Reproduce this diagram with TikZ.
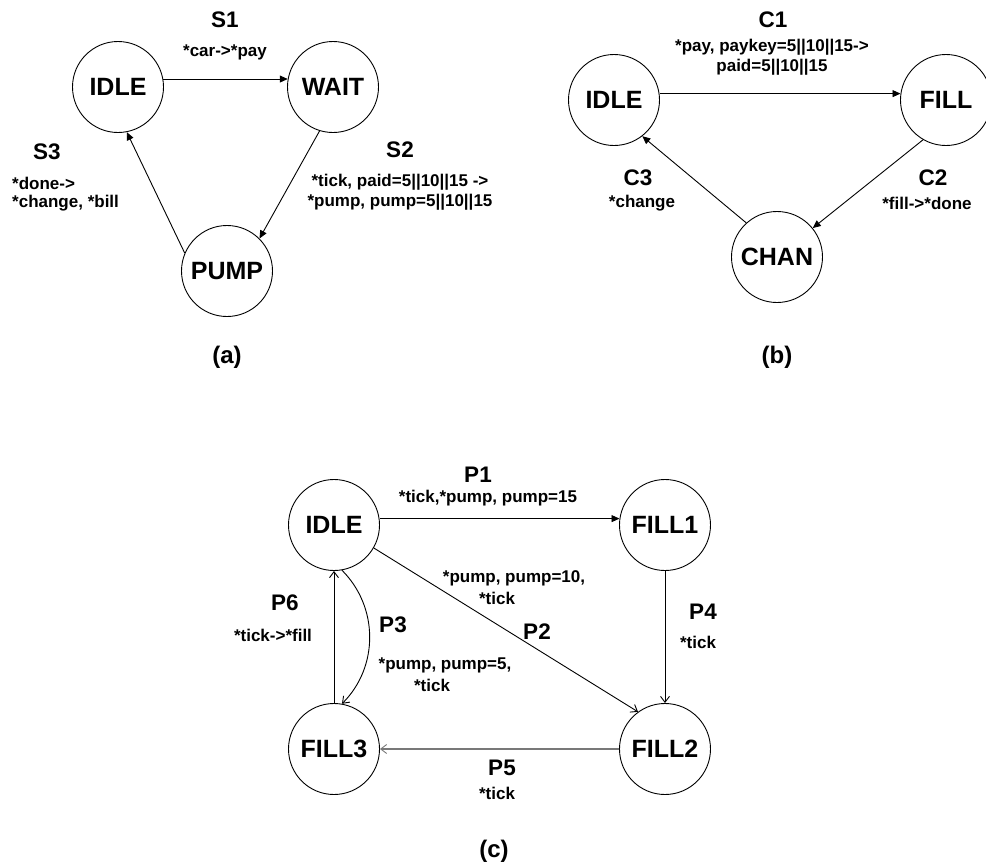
\documentclass[tikz,border=0pt]{standalone}
\usepackage{fontspec}
\setmainfont{Liberation Sans}
\usetikzlibrary{arrows.meta}
\definecolor{fadedline}{RGB}{120,120,120}
\begin{document}
\begin{tikzpicture}[x=1pt,y=-1pt,
  state/.style={draw,circle,line width=0.9pt,minimum size=91pt,inner sep=0pt,
    font=\fontsize{25}{30}\selectfont\bfseries},
  tag/.style={inner sep=0pt,font=\fontsize{22.5}{26}\selectfont\bfseries},
  cond/.style={inner sep=0pt,align=center,font=\fontsize{17}{20}\selectfont\bfseries},
  caption/.style={inner sep=0pt,font=\fontsize{24}{28}\selectfont\bfseries},
  solidarrow/.style={line width=0.9pt,-{Triangle[length=8pt,width=7pt]}},
  openarrow/.style={line width=0.9pt,-{Straight Barb[length=6pt,width=9pt,line width=0.9pt]}}]
\useasboundingbox (0,0) rectangle (986,865);

% ---------- (a) station controller ----------
\node[state] (aidle) at (118,87) {IDLE};
\node[state] (await) at (333,87) {WAIT};
\node[state] (apump) at (227,271) {PUMP};
\draw[solidarrow] (aidle.10) -- (await.170);
\draw[solidarrow] (await.253) -- (apump.45);
\draw[solidarrow] (apump.157) -- (aidle.281);
\node[tag] (s1) at (225,20) {S1};
\node[cond] (s1c) at (225,52) {*car->*pay};
\node[tag] (s2) at (400,150) {S2};
\node[cond] (s2c) at (400,192) {*tick, paid=5||10||15 ->\\*pump, pump=5||10||15};
\node[tag] (s3) at (47,152) {S3};
\node[cond,anchor=west] (s3a) at (12,183) {*done->};
\node[cond,anchor=west] (s3b) at (12,203) {*change, *bill};
\node[caption] (capa) at (227,357) {(a)};

% ---------- (b) cashier ----------
\node[state] (bidle) at (614,100) {IDLE};
\node[state] (bfill) at (946,100) {FILL};
\node[state] (bchan) at (777,257) {CHAN};
\draw[solidarrow] (bidle.8) -- (bfill.172);
\draw[solidarrow] (bfill.240) -- (bchan.39);
\draw[solidarrow] (bchan.132) -- (bidle.-52);
\node[tag] (c1) at (773,20) {C1};
\node[cond] (c1c) at (772,57) {*pay, paykey=5||10||15->\\paid=5||10||15};
\node[tag] (c2) at (933,178) {C2};
\node[cond] (c2c) at (927,203) {*fill->*done};
\node[tag] (c3) at (638,178) {C3};
\node[cond] (c3c) at (642,203) {*change};
\node[caption] (capb) at (777,357) {(b)};

% ---------- (c) pump ----------
\node[state] (cidle) at (334,525) {IDLE};
\node[state] (cfilla) at (665,525) {FILL1};
\node[state] (cfillb) at (665,749) {FILL2};
\node[state] (cfillc) at (334,749) {FILL3};
\draw[solidarrow] (cidle.8) -- (cfilla.172);
\draw[openarrow] (cidle.-30) -- (cfillb.126);
\draw[openarrow] (cidle.-80) to[bend left=45] (cfillc.80);
\draw[openarrow] (cfilla.south) -- (cfillb.north);
\draw[openarrow,draw=fadedline,line width=1.4pt] (cfillb.west) -- (cfillc.east);
\draw[openarrow] (cfillc.north) -- (cidle.south);
\node[tag] (p1) at (478,475) {P1};
\node[cond] (p1c) at (488,498) {*tick,*pump, pump=15};
\node[tag] (p2) at (537,632) {P2};
\node[cond] (p2a) at (514,578) {*pump, pump=10,};
\node[cond] (p2b) at (497,598) {*tick};
\node[tag] (p3) at (393,625) {P3};
\node[cond] (p3a) at (445,665) {*pump, pump=5,};
\node[cond] (p3b) at (432,685) {*tick};
\node[tag] (p4) at (703,612) {P4};
\node[cond] (p4c) at (698,642) {*tick};
\node[tag] (p5) at (502,768) {P5};
\node[cond] (p5c) at (497,793) {*tick};
\node[tag] (p6) at (285,603) {P6};
\node[cond] (p6c) at (273,635) {*tick->*fill};
\node[caption] (capc) at (494,851) {(c)};
\end{tikzpicture}
\end{document}
